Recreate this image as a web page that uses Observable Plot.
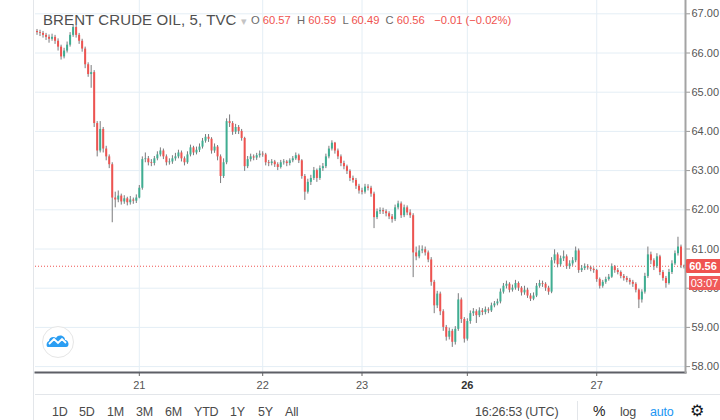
<!DOCTYPE html>
<html><head><meta charset="utf-8">
<script src="https://cdn.jsdelivr.net/npm/d3@7"></script>
<script src="https://cdn.jsdelivr.net/npm/@observablehq/plot@0.6"></script>
<style>
body{margin:0;background:#fff;font-family:"Liberation Sans",Arial,sans-serif;}
#wrap{position:relative;width:720px;height:420px;overflow:hidden;background:#fff;}
#wrap svg.plot{position:absolute;left:0;top:0;}
.abs{position:absolute;white-space:nowrap;}
.tb{position:absolute;top:405px;font-size:12.5px;color:#4a4a4a;letter-spacing:-0.2px;}
</style></head><body><div id="wrap"></div>
<script>
const symbolTitle = "BRENT CRUDE OIL, 5, TVC";
const lastBar = {O: "60.57", H: "60.59", L: "60.49", C: "60.56", chg: "\u22120.01 (\u22120.02%)"};
const countdown = "03:07";
const clockText = "16:26:53 (UTC)";
const rangeButtons = ["1D","5D","1M","3M","6M","YTD","1Y","5Y","All"];
const dayTickIndex = [34, 75, 108, 143, 186];
const dayTickLabel = ["21","22","23","26","27"];
const priceTicks = [58,59,60,61,62,63,64,65,66,67];
const firstOpen = 66.55;
const close = [
66.52,66.50,66.45,66.40,66.35,66.40,66.30,66.15,65.90,66.05,
66.20,66.45,66.65,66.45,66.30,66.10,65.70,65.45,65.50,64.20,
63.50,64.05,63.55,63.35,63.15,62.30,62.25,62.35,62.20,62.28,
62.18,62.25,62.22,62.30,62.55,63.28,63.30,63.20,63.18,63.30,
63.40,63.50,63.35,63.20,63.22,63.30,63.35,63.45,63.30,63.20,
63.40,63.58,63.45,63.52,63.60,63.75,63.85,63.80,63.50,63.60,
63.35,62.85,63.20,64.25,64.20,63.98,64.10,64.00,63.82,63.10,
63.28,63.35,63.32,63.38,63.42,63.40,63.20,63.18,63.22,63.15,
63.08,63.20,63.22,63.18,63.25,63.30,63.38,63.25,62.85,62.45,
62.70,62.80,63.00,62.80,63.05,63.10,63.35,63.55,63.70,63.50,
63.35,63.18,63.10,62.98,62.80,62.75,62.60,62.48,62.45,62.58,
62.55,62.40,61.80,61.95,61.98,61.95,61.90,61.82,61.75,62.05,
62.15,61.85,62.05,61.92,61.85,60.90,60.80,60.95,60.98,60.90,
60.72,60.15,59.55,59.85,59.40,59.00,58.75,58.90,58.62,58.95,
59.70,59.20,58.70,59.15,59.35,59.40,59.30,59.42,59.38,59.45,
59.42,59.55,59.60,59.65,59.90,60.05,60.10,59.95,60.00,60.12,
60.00,59.88,59.95,59.80,59.72,59.80,60.05,60.12,60.10,60.00,
59.90,60.70,60.85,60.60,60.75,60.80,60.55,60.62,60.70,60.95,
60.45,60.50,60.55,60.52,60.48,60.45,60.22,60.05,60.15,60.22,
60.28,60.55,60.45,60.40,60.30,60.25,60.20,60.15,60.10,59.95,
59.70,59.90,60.30,60.85,60.70,60.55,60.80,60.40,60.25,60.12,
60.40,60.62,60.88,61.05,60.57,60.56];
const high = [
66.60,66.58,66.55,66.50,66.46,66.48,66.45,66.36,66.20,66.12,
66.28,66.52,66.72,66.70,66.50,66.35,66.15,65.75,65.68,65.55,
64.25,64.25,64.10,63.62,63.40,63.20,62.45,62.48,62.40,62.36,
62.32,62.34,62.30,62.38,62.62,63.35,63.45,63.36,63.28,63.36,
63.48,63.58,63.55,63.40,63.30,63.38,63.44,63.52,63.50,63.35,
63.48,63.65,63.62,63.60,63.68,63.82,63.92,63.92,63.84,63.68,
63.64,63.40,63.30,64.32,64.42,64.25,64.18,64.15,64.05,63.85,
63.36,63.42,63.40,63.44,63.50,63.48,63.44,63.26,63.28,63.26,
63.20,63.26,63.28,63.26,63.30,63.36,63.45,63.42,63.28,62.90,
62.78,62.88,63.08,63.04,63.12,63.18,63.42,63.62,63.76,63.72,
63.55,63.40,63.24,63.14,63.02,62.86,62.80,62.65,62.55,62.65,
62.64,62.60,62.45,62.02,62.05,62.04,62.00,61.95,61.88,62.12,
62.22,62.20,62.12,62.10,62.00,61.90,61.05,61.08,61.08,61.05,
60.95,60.78,60.20,59.92,59.90,59.45,59.05,58.98,58.95,59.02,
59.86,59.75,59.25,59.22,59.42,59.48,59.45,59.50,59.48,59.52,
59.50,59.62,59.66,59.72,59.98,60.12,60.18,60.14,60.08,60.20,
60.16,60.04,60.05,60.00,59.86,59.88,60.12,60.20,60.18,60.14,
60.05,60.78,60.98,60.90,60.82,60.95,60.85,60.70,60.78,61.05,
61.00,60.58,60.62,60.60,60.56,60.52,60.48,60.26,60.20,60.28,
60.35,60.62,60.58,60.50,60.44,60.35,60.30,60.25,60.20,60.14,
59.98,59.96,60.38,61.05,60.92,60.75,60.88,60.84,60.45,60.30,
60.48,60.70,60.95,61.30,61.10,60.59];
const low = [
66.45,66.42,66.38,66.32,66.25,66.30,66.22,66.05,65.82,65.85,
66.00,66.15,66.40,66.38,66.22,66.02,65.60,65.38,65.10,64.10,
63.35,63.45,63.45,63.25,63.05,61.67,62.05,62.18,62.12,62.14,
62.10,62.12,62.14,62.16,62.28,62.50,63.20,63.12,63.10,63.12,
63.25,63.35,63.28,63.12,63.14,63.16,63.24,63.30,63.22,63.12,
63.16,63.35,63.38,63.40,63.46,63.55,63.70,63.72,63.42,63.44,
63.25,62.67,62.80,63.15,64.10,63.90,63.92,63.92,63.75,62.98,
63.05,63.22,63.25,63.26,63.32,63.34,63.12,63.10,63.12,63.08,
63.00,63.04,63.14,63.10,63.12,63.20,63.26,63.18,62.78,62.24,
62.40,62.62,62.75,62.70,62.75,62.98,63.05,63.30,63.50,63.42,
63.28,63.10,63.02,62.90,62.72,62.68,62.52,62.40,62.38,62.40,
62.48,62.32,61.52,61.75,61.88,61.88,61.82,61.75,61.66,61.70,
62.00,61.78,61.80,61.85,61.78,60.27,60.70,60.75,60.88,60.82,
60.65,60.05,59.35,59.48,59.30,58.90,58.65,58.68,58.49,58.55,
58.90,59.10,58.60,58.65,59.08,59.28,59.10,59.25,59.30,59.32,
59.35,59.38,59.50,59.55,59.60,59.85,59.98,59.88,59.90,59.95,
59.92,59.80,59.82,59.74,59.66,59.68,59.76,60.00,60.02,59.92,
59.82,59.86,60.62,60.52,60.55,60.68,60.48,60.48,60.56,60.65,
60.38,60.40,60.45,60.46,60.42,60.38,60.15,59.98,60.00,60.10,
60.18,60.25,60.38,60.34,60.24,60.18,60.14,60.08,60.02,59.88,
59.48,59.62,59.85,60.25,60.60,60.45,60.50,60.32,60.18,60.00,
60.08,60.35,60.58,60.82,60.50,60.49];

const upColor = "#3fae92", downColor = "#ef5350", wickColor = "#7a7a7c", gridColor = "#e4eef5";
const candles = close.map((c, i) => ({i, open: i ? close[i-1] : firstOpen, close: c, high: high[i], low: low[i]}));
const lastClose = close[close.length - 1];

const chart = Plot.plot({
  width: 720, height: 394,
  marginLeft: 35, marginRight: 35, marginTop: 0, marginBottom: 22,
  style: {fontFamily: "Liberation Sans, Arial, sans-serif", fontSize: "11px", color: "#4a4a4a", background: "transparent"},
  x: {domain: [-0.5, close.length - 0.5], range: [35, 685], label: null},
  y: {domain: [58, 67], range: [366.1, 13.3], label: null},
  marks: [
    Plot.ruleY(priceTicks, {stroke: gridColor}),
    Plot.ruleX(dayTickIndex, {stroke: gridColor}),
    Plot.ruleY([lastClose], {stroke: "#ef5350", strokeDasharray: "1,2"}),
    Plot.ruleX(candles, {x: "i", y1: "low", y2: "high", stroke: wickColor, strokeWidth: 1}),
    Plot.ruleX(candles, {x: "i", y1: "open", y2: "close", stroke: d => d.close >= d.open ? upColor : downColor, strokeWidth: 2}),
    Plot.axisY(priceTicks, {anchor: "right", label: null, tickSize: 4, tickPadding: 2, tickFormat: d => d.toFixed(2), stroke: "#9a9a9a", fill: "#555"}),
    Plot.axisX(dayTickIndex, {anchor: "bottom", label: null, tickSize: 4, tickPadding: 5, tickFormat: d => dayTickLabel[dayTickIndex.indexOf(d)], stroke: "#666", fill: "#555"}),
    Plot.frame({anchor: "bottom", stroke: "#5d5f66", strokeWidth: 2}),
    Plot.frame({anchor: "right", stroke: "#a3a3a3", strokeWidth: 2})
  ]
});
d3.select(chart).selectAll("text").filter(function(){ return this.textContent === "26"; }).attr("font-weight", "bold").attr("fill", "#333");

const wrap = document.getElementById("wrap");
wrap.appendChild(chart);

function addDiv(html, css) {
  const d = document.createElement("div");
  d.className = "abs";
  d.innerHTML = html;
  Object.assign(d.style, css);
  wrap.appendChild(d);
  return d;
}
// left border & bottom separator
addDiv("", {left: "33px", top: "0px", width: "1px", height: "420px", background: "#e3e6ea"});
addDiv("", {left: "35px", top: "394px", width: "685px", height: "1px", background: "#e3e6ea"});
addDiv("", {left: "577px", top: "401px", width: "1px", height: "19px", background: "#e3e6ea"});

// header
addDiv(symbolTitle + ' <span style="color:#c4c4c4;font-size:11px;">&#9662;</span>', {left: "43px", top: "11px", fontSize: "15px", color: "#4f4f4f", letterSpacing: "0.1px"});
const red = "#ef5350";
addDiv(`<span style="color:#6a6a6a">O</span> <span style="color:${red}">${lastBar.O}</span>&nbsp; <span style="color:#6a6a6a">H</span> <span style="color:${red}">${lastBar.H}</span>&nbsp; <span style="color:#6a6a6a">L</span> <span style="color:${red}">${lastBar.L}</span>&nbsp; <span style="color:#6a6a6a">C</span> <span style="color:${red}">${lastBar.C}</span>&nbsp;&nbsp; <span style="color:${red}">${lastBar.chg}</span>`,
  {left: "251px", top: "14px", fontSize: "11.2px"});

// price label
const yLast = chart.scale("y").apply(lastClose);
addDiv(lastClose.toFixed(2), {left: "686px", top: (yLast - 7) + "px", width: "34px", height: "14px", lineHeight: "14px", background: red, color: "#fff", fontSize: "11px", fontWeight: "bold", textAlign: "center", borderRadius: "1px 0 0 1px"});
addDiv(countdown, {left: "689px", top: (yLast + 10) + "px", width: "31px", height: "14px", lineHeight: "14px", background: "#f05a5a", color: "#fff", fontSize: "11px", textAlign: "center"});

// logo
addDiv(`<svg width="34" height="34" viewBox="-17 -17 34 34"><circle r="15.5" fill="#fff" stroke="#e6e6e6"/>
<path d="M-10,5 C-12,5 -12,0 -9,-1 C-9,-5 -4,-6 -2,-4 C0,-8 7,-7 7,-2 C11,-2 12,5 8,5 Z" fill="#2b9ef3"/>
<path d="M-9,2 L-4,-3 L0,1 L4,-3 L8,1" fill="none" stroke="#fff" stroke-width="1.8"/></svg>`, {left: "41px", top: "325px"});

// bottom toolbar
const btnX = [52, 79, 107, 136, 165, 194, 230, 258, 285];
rangeButtons.forEach((b, i) => {
  const d = document.createElement("div");
  d.className = "tb"; d.textContent = b; d.style.left = btnX[i] + "px";
  wrap.appendChild(d);
});
[[clockText, 475, "#4a4a4a"], ["%", 593, "#222"], ["log", 620, "#4a4a4a"], ["auto", 650, "#2196f3"]].forEach(([t, x, c]) => {
  const d = document.createElement("div");
  d.className = "tb"; d.textContent = t; d.style.left = x + "px"; d.style.color = c;
  if (t === "%") d.style.fontSize = "14px", d.style.top = "403px";
  wrap.appendChild(d);
});
addDiv("&#9881;", {left: "690px", top: "403px", fontSize: "16px", lineHeight: "16px", color: "#131722", fontFamily: "DejaVu Sans"});
</script></body></html>
